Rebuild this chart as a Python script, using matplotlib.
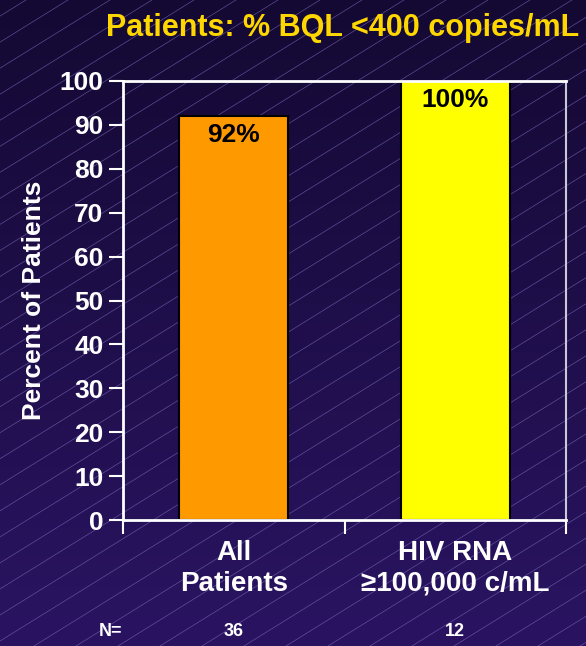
import numpy as np
import matplotlib
matplotlib.use("Agg")
import matplotlib.pyplot as plt
from matplotlib.colors import LinearSegmentedColormap

# data
groups = ["All\nPatients", "HIV RNA\n\u2265100,000 c/mL"]
pct_bql = [92, 100]
n_patients = [36, 12]
bar_colors = ["#ff9900", "#ffff00"]

plt.rcParams['font.family'] = ['Liberation Sans', 'DejaVu Sans']
plt.rcParams['font.weight'] = 'bold'

fig = plt.figure(figsize=(5.86, 6.46), dpi=100)

# background: dark purple gradient with thin diagonal stripes
bg = fig.add_axes([0, 0, 1, 1], zorder=0)
grad = np.linspace(0, 1, 256).reshape(-1, 1)
cmap = LinearSegmentedColormap.from_list("bg", ["#2a1462", "#140933"])
bg.imshow(grad, aspect="auto", cmap=cmap, extent=[0, 586, 0, 646], origin="lower")
slope = 0.62
for x0 in np.arange(-1100, 600, 42):
    bg.plot([x0, x0 + 1100], [0, 1100 * slope], color="#7a68b8", lw=0.5, alpha=0.7)
bg.set_xlim(0, 586)
bg.set_ylim(0, 646)
bg.axis("off")

ax = fig.add_axes([123 / 586, 1 - 520 / 646, 443 / 586, 439 / 646], zorder=1)
ax.patch.set_alpha(0)
x = np.arange(len(groups))
ax.bar(x, pct_bql, width=0.49, color=bar_colors, edgecolor="black", lw=1.5, zorder=2)
for xi, v in zip(x, pct_bql):
    ax.text(xi, v - 1.5, f"{v}%", ha="center", va="top", fontsize=19,
            fontweight="bold", color="black", zorder=3)

ax.set_xlim(-0.5, 1.5)
ax.set_ylim(0, 100)
ax.set_yticks(range(0, 101, 10))
ax.set_xticks([-0.5, 0.5, 1.5])
ax.set_xticklabels([])
ax.tick_params(axis="y", colors="white", labelsize=19, length=10, width=1.5, pad=4)
ax.tick_params(axis="x", colors="white", length=10, width=1.5)
for lbl in ax.get_yticklabels():
    lbl.set_fontweight("bold")
for side in ["left", "bottom", "top"]:
    ax.spines[side].set_color("white")
    ax.spines[side].set_linewidth(2)
ax.spines["right"].set_color("#c8c8d8")
ax.spines["right"].set_linewidth(1.5)

for xi, g in zip(x, groups):
    ax.text(xi, -4.5, g, ha="center", va="top", fontsize=20, fontweight="bold",
            color="white", linespacing=1.25)

ax.set_ylabel("Percent of Patients", color="white", fontsize=19,
              fontweight="bold", labelpad=10)

# sample sizes under the category labels
fig.text(110 / 586, 1 - 632 / 646, "N=", color="white", fontsize=13,
         fontweight="bold", ha="center", va="center")
for xi, n in zip(x, n_patients):
    xf = (123 + (xi + 0.5) / 2 * 443) / 586
    fig.text(xf, 1 - 632 / 646, str(n), color="white", fontsize=13,
             fontweight="bold", ha="center", va="center")

fig.text(343 / 586, 1 - 28 / 646, "Patients: % BQL <400 copies/mL",
         color="#ffd700", fontsize=22, fontweight="bold", ha="center", va="center")

fig.savefig("out.png", dpi=100)
